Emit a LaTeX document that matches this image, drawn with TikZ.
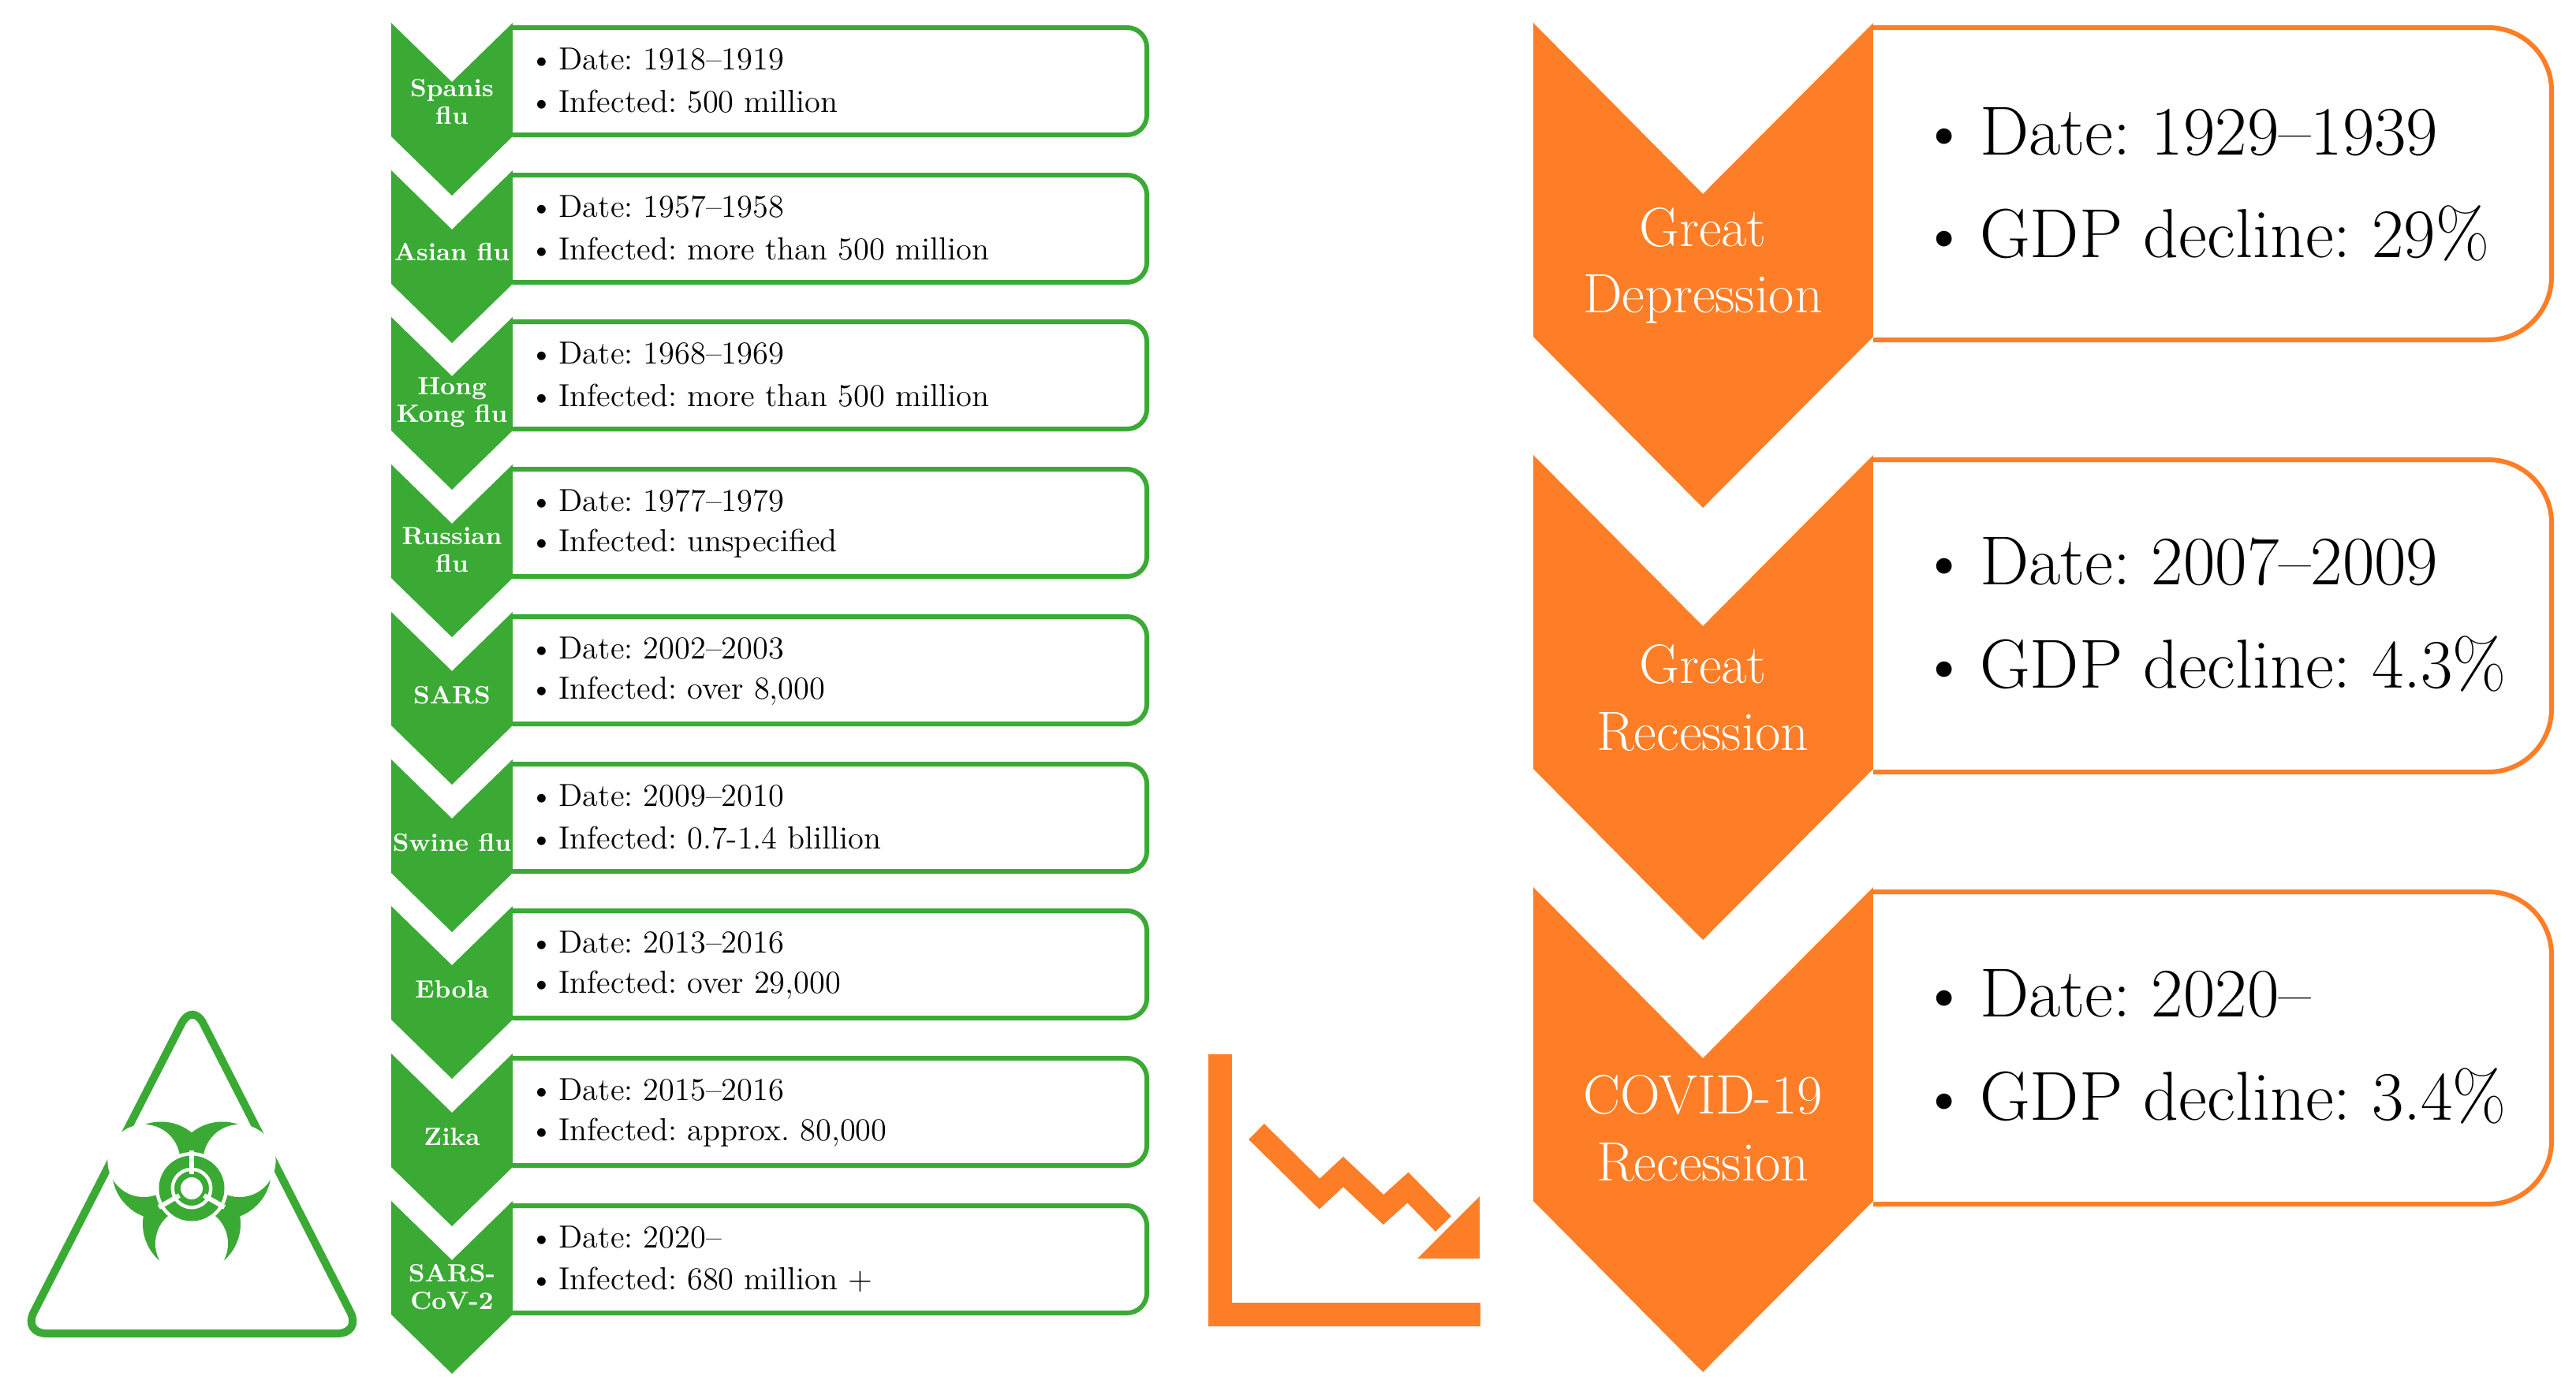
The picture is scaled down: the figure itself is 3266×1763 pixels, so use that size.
\documentclass[tikz,border=0pt]{standalone}
\usepackage{tikz}
\usetikzlibrary{positioning, calc}
\definecolor{pgreen}{RGB}{58,170,53}
\definecolor{porange}{RGB}{253,126,38}
\frenchspacing
\tikzset{
  gchev/.style={fill=pgreen, draw=none},
  gbox/.style={draw=pgreen, line width=0.06cm, rounded corners=0.25cm, fill=white},
  glabel/.style={text=white, font=\fontsize{9}{10}\selectfont\bfseries, align=center, inner sep=0pt},
  gitem/.style={anchor=west, font=\fontsize{11.5}{13}\selectfont, inner sep=0pt},
  ochev/.style={fill=porange, draw=none},
  obox/.style={draw=porange, line width=0.06cm, rounded corners=0.8cm, fill=white},
  olabel/.style={text=white, font=\fontsize{20}{24}\selectfont, align=center, inner sep=0pt},
  oitem/.style={anchor=west, font=\fontsize{25}{30}\selectfont, inner sep=0pt},
}
\newcommand{\bul}{\textbullet\kern0.15em}
\newcommand{\gchevron}[1]{%
  \fill[gchev] (496,#1) -- (573,#1+75) -- (650,#1) -- (650,#1+144) -- (573,#1+219) -- (496,#1+144) -- cycle;
  \draw[gbox] (650,#1+6) -- (1454,#1+6) -- (1454,#1+142) -- (650,#1+142);}
\newcommand{\ochevron}[1]{%
  \fill[ochev] (1944,#1) -- (2159,#1+217) -- (2375,#1) -- (2375,#1+398) -- (2159,#1+615) -- (1944,#1+398) -- cycle;
  \draw[obox] (2375,#1+6) -- (3235,#1+6) -- (3235,#1+402) -- (2375,#1+402);}
\begin{document}
\begin{tikzpicture}[x=0.01cm, y=-0.01cm]
      \useasboundingbox (0,0) rectangle (3266,1763);

      % PANDEMICS
      \gchevron{29}
      \node[glabel] (spanish) at (573,129) {Spanis\\flu};
      \node[gitem] (spanishdate) at (671,75) {\bul Date: 1918--1919};
      \node[gitem] (spanishinf) at (671,129) {\bul Infected: 500 million};

      \gchevron{216}
      \node[glabel] (asian) at (573,320) {Asian flu};
      \node[gitem] (asiandate) at (671,262) {\bul Date: 1957--1958};
      \node[gitem] (asianinf) at (671,316) {\bul Infected: more than 500 million};

      \gchevron{402}
      \node[glabel] (hongkong) at (573,510) {Hong\\Kong flu};
      \node[gitem] (hongkongdate) at (671,448) {\bul Date: 1968--1969};
      \node[gitem] (hongkonginf) at (671,502) {\bul Infected: more than 500 million};

      \gchevron{589}
      \node[glabel] (russian) at (573,697) {Russian\\flu};
      \node[gitem] (russiandate) at (671,635) {\bul Date: 1977--1979};
      \node[gitem] (russianinf) at (671,689) {\bul Infected: unspecified};

      \gchevron{776}
      \node[glabel] (sars) at (573,882) {SARS};
      \node[gitem] (sarsdate) at (671,822) {\bul Date: 2002--2003};
      \node[gitem] (sarsinf) at (671,876) {\bul Infected: over 8,000};

      \gchevron{963}
      \node[glabel] (swine) at (573,1069) {Swine flu};
      \node[gitem] (swinedate) at (671,1009) {\bul Date: 2009--2010};
      \node[gitem] (swineinf) at (671,1063) {\bul Infected: 0.7-1.4 blillion};

      \gchevron{1149}
      \node[glabel] (ebola) at (573,1255) {Ebola};
      \node[gitem] (eboladate) at (671,1195) {\bul Date: 2013--2016};
      \node[gitem] (ebolainf) at (671,1249) {\bul Infected: over 29,000};

      \gchevron{1336}
      \node[glabel] (zika) at (573,1442) {Zika};
      \node[gitem] (zikadate) at (671,1382) {\bul Date: 2015--2016};
      \node[gitem] (zikainf) at (671,1436) {\bul Infected: approx. 80,000};

      \gchevron{1523}
      \node[glabel] (covid) at (573,1632) {SARS-\\CoV-2};
      \node[gitem] (coviddate) at (671,1569) {\bul Date: 2020--};
      \node[gitem] (covidinf) at (671,1623) {\bul Infected: 680 million +};

      % RECESSIONS
      \ochevron{29}
      \node[olabel] (depression) at (2159,337) {Great\\Depression};
      \node[oitem] (depressiondate) at (2433,167) {\bul Date: 1929--1939};
      \node[oitem] (depressiongdp) at (2433,296) {\bul GDP decline: 29\%};

      \ochevron{577}
      \node[olabel] (recession) at (2159,885) {Great\\Recession};
      \node[oitem] (recessiondate) at (2433,712) {\bul Date: 2007--2009};
      \node[oitem] (recessiongdp) at (2433,842) {\bul GDP decline: 4.3\%};

      \ochevron{1125}
      \node[olabel] (covidrec) at (2159,1431) {COVID-19\\Recession};
      \node[oitem] (covidrecdate) at (2433,1260) {\bul Date: 2020--};
      \node[oitem] (covidrecgdp) at (2433,1390) {\bul GDP decline: 3.4\%};

      % Decline chart
      \fill[porange] (1532,1337) rectangle (1562,1682);
      \fill[porange] (1532,1652) rectangle (1877,1682);
      \draw[porange, line width=0.28cm, line join=miter] (1593,1435) -- (1673,1514) -- (1703,1486) -- (1754,1534) -- (1785,1506) -- (1830,1552);
      \fill[porange] (1876,1517) -- (1876,1596) -- (1797,1596) -- cycle;

      % Biohazard sign
      \draw[pgreen, line width=0.1cm, rounded corners=0.3cm] (244,1271) -- (458,1691) -- (29,1691) -- cycle;
      \begin{scope}[shift={(243,1507)}]
        \foreach \a in {90,210,330} {
          \fill[pgreen] (\a:45) circle (62);
        }
        \foreach \a in {90,210,330} {
          \fill[white] (\a:70) circle (46);
        }
        \draw[white, line width=0.24cm] (0,0) circle (34);
        \draw[pgreen, line width=0.15cm] (0,0) circle (34);
        \foreach \a in {30,150,270} {
          \draw[white, line width=0.06cm] (\a:18) -- (\a:48);
        }
        \fill[white] (0,0) circle (14);
      \end{scope}
\end{tikzpicture}
\end{document}
